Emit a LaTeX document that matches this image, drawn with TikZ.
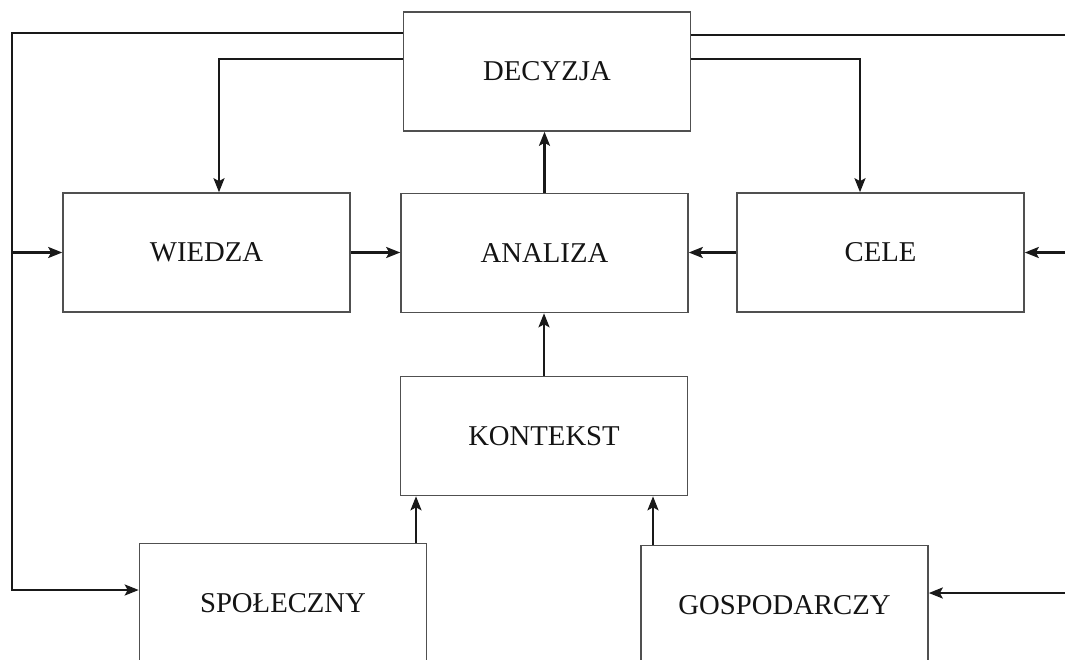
\documentclass[tikz,border=0pt]{standalone}
\usepackage{fontspec}
\setmainfont{Liberation Serif}
\usetikzlibrary{arrows.meta}
\definecolor{boxline}{RGB}{80,80,80}
\definecolor{connline}{RGB}{25,25,25}
\definecolor{txt}{RGB}{20,20,20}
\tikzset{
  blk/.style={draw=boxline, line width=1.6pt, minimum width=287pt, minimum height=119pt,
    inner sep=0pt, text=txt, font=\fontsize{28.7}{34}\selectfont},
  link/.style={draw=connline, line width=2.4pt},
  arr/.style={link, -{Stealth[length=14pt,width=11pt,inset=3pt]}}
}
\begin{document}
\begin{tikzpicture}[x=1pt,y=-1pt]
\path[use as bounding box] (0,0) rectangle (1065,659);
\clip (0,0) rectangle (1065,659);
\fill[white] (0,0) rectangle (1065,659);

\node[blk] (DEC) at (547,71.5) {DECYZJA};
\node[blk] (WIE) at (206.5,252.5) {WIEDZA};
\node[blk] (ANA) at (544.5,253) {ANALIZA};
\node[blk] (CEL) at (880.5,252.5) {CELE};
\node[blk] (KON) at (544,436) {KONTEKST};
\node[blk] (SPO) at (283,603) {SPOŁECZNY};
\node[blk] (GOS) at (784.5,605) {GOSPODARCZY};

\coordinate (a1) at (12,33);
\coordinate (a2) at (12,590);
\coordinate (b1) at (219,59);
\coordinate (c1) at (1065,35);
\coordinate (d1) at (860,59);
\coordinate (e1) at (1065,593);
\coordinate (f1) at (416,0);
\coordinate (g1) at (653,0);

% left feedback loop
\draw[arr] (DEC.west|-a1) -- (a1) -- (a2) -- (SPO.west|-a2);
\draw[arr] (a1|-WIE.west) -- (WIE.west);
\draw[arr] (DEC.west|-b1) -- (b1) -- (b1|-WIE.north);

% right feedback loop
\draw[link] (DEC.east|-c1) -- (c1);
\draw[arr] (DEC.east|-d1) -- (d1) -- (d1|-CEL.north);
\draw[arr] (c1|-CEL.east) -- (CEL.east);
\draw[arr] (e1) -- (GOS.east|-e1);

% central flow
\draw[arr] (ANA.north) -- (ANA.north|-DEC.south);
\draw[arr] (WIE.east) -- (ANA.west|-WIE.east);
\draw[arr] (CEL.west) -- (ANA.east|-CEL.west);
\draw[arr] (KON.north) -- (KON.north|-ANA.south);
\draw[arr] (SPO.north-|f1) -- (KON.south-|f1);
\draw[arr] (GOS.north-|g1) -- (KON.south-|g1);
\end{tikzpicture}
\end{document}
